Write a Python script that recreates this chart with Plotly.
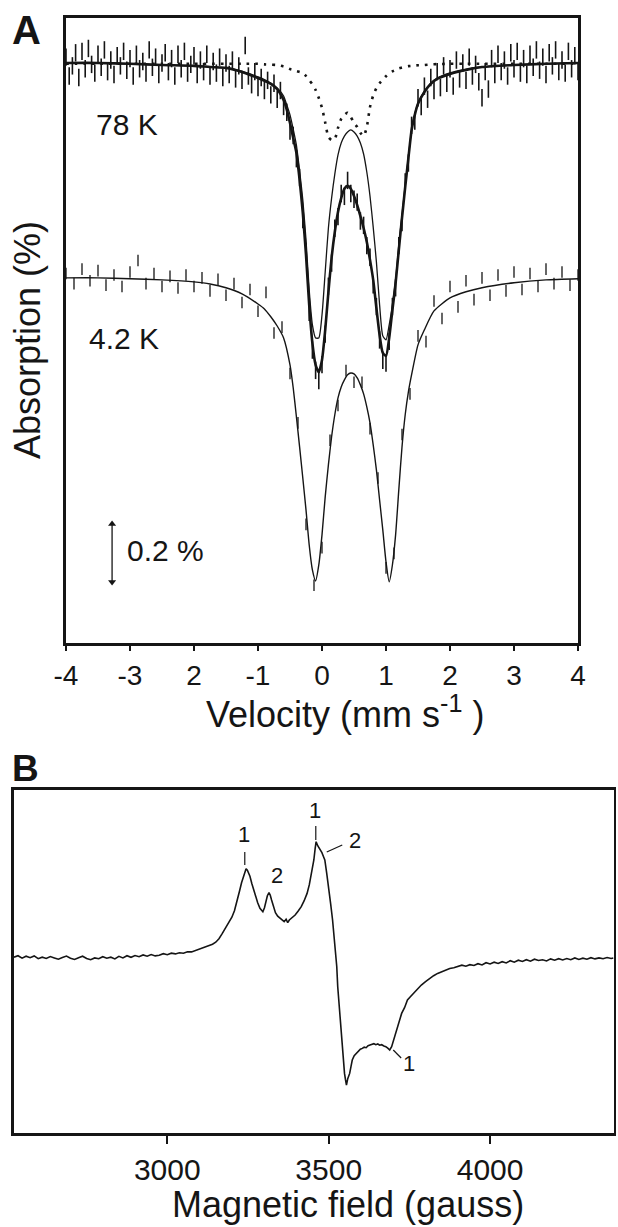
import plotly.graph_objects as go

FONT = "Liberation Sans, Arial, Helvetica, sans-serif"
INK = "#151515"

# ---------------- Panel A : Mossbauer spectra (absorption in %, 0 = baseline) -------------
V_CH78 = [
    -4.00, -3.95, -3.90, -3.85, -3.80, -3.75, -3.70, -3.65, -3.60, -3.55,
    -3.50, -3.45, -3.40, -3.35, -3.30, -3.25, -3.20, -3.15, -3.10, -3.05,
    -3.00, -2.95, -2.90, -2.85, -2.80, -2.75, -2.70, -2.65, -2.60, -2.55,
    -2.50, -2.45, -2.40, -2.35, -2.30, -2.25, -2.20, -2.15, -2.10, -2.05,
    -2.00, -1.95, -1.90, -1.85, -1.80, -1.75, -1.70, -1.65, -1.60, -1.55,
    -1.50, -1.45, -1.40, -1.35, -1.30, -1.25, -1.20, -1.15, -1.10, -1.05,
    -1.00, -0.95, -0.90, -0.85, -0.80, -0.75, -0.70, -0.65, -0.60, -0.55,
    -0.50, -0.45, -0.40, -0.35, -0.30, -0.25, -0.20, -0.15, -0.10, -0.05,
    0.00, 0.05, 0.10, 0.15, 0.20, 0.25, 0.30, 0.35, 0.40, 0.45,
    0.50, 0.55, 0.60, 0.65, 0.70, 0.75, 0.80, 0.85, 0.90, 0.95,
    1.00, 1.05, 1.10, 1.15, 1.20, 1.25, 1.30, 1.35, 1.40, 1.45,
    1.50, 1.55, 1.60, 1.65, 1.70, 1.75, 1.80, 1.85, 1.90, 1.95,
    2.00, 2.05, 2.10, 2.15, 2.20, 2.25, 2.30, 2.35, 2.40, 2.45,
    2.50, 2.55, 2.60, 2.65, 2.70, 2.75, 2.80, 2.85, 2.90, 2.95,
    3.00, 3.05, 3.10, 3.15, 3.20, 3.25, 3.30, 3.35, 3.40, 3.45,
    3.50, 3.55, 3.60, 3.65, 3.70, 3.75, 3.80, 3.85, 3.90, 3.95,
    4.00,
]
ABS_78K = [
    -0.020, 0.045, 0.010, -0.035, 0.050, -0.040, 0.020, -0.050, 0.005, 0.035,
    -0.030, 0.015, -0.045, 0.030, -0.010, 0.040, -0.025, 0.010, -0.040, 0.025,
    -0.015, 0.045, -0.030, 0.020, -0.005, 0.035, -0.045, 0.015, -0.020, 0.040,
    0.000, -0.035, 0.030, -0.015, 0.045, -0.030, 0.020, -0.040, 0.035, 0.005,
    -0.025, 0.040, -0.010, 0.030, -0.030, 0.045, -0.005, 0.035, -0.020, 0.050,
    0.000, 0.040, -0.010, 0.055, 0.010, 0.060, -0.060, 0.045, 0.075, 0.030,
    0.085, 0.050, 0.095, 0.060, 0.110, 0.070, 0.125, 0.095, 0.150, 0.170,
    0.235, 0.250, 0.330, 0.395, 0.540, 0.650, 0.860, 0.990, 1.060, 1.095,
    1.040, 0.935, 0.770, 0.690, 0.570, 0.530, 0.450, 0.460, 0.405, 0.450,
    0.470, 0.480, 0.545, 0.560, 0.630, 0.670, 0.765, 0.840, 0.955, 1.025,
    1.035, 0.960, 0.840, 0.775, 0.630, 0.550, 0.410, 0.345, 0.215, 0.200,
    0.120, 0.150, 0.080, 0.125, 0.050, 0.095, 0.030, 0.085, 0.010, 0.070,
    0.020, 0.080, -0.010, 0.055, 0.000, 0.060, -0.020, 0.045, 0.005, 0.065,
    0.120, 0.030, 0.090, -0.015, 0.040, -0.030, 0.030, -0.010, 0.045, -0.035,
    0.020, -0.040, 0.035, -0.015, 0.040, -0.030, 0.015, -0.045, 0.025, -0.020,
    0.040, -0.035, 0.010, -0.045, 0.030, -0.010, 0.035, -0.040, 0.020, -0.025,
    0.030,
]
ERR_78K = 0.030

V_CH42 = [
    -4.000, -3.875, -3.750, -3.625, -3.500, -3.375, -3.250, -3.125,
    -3.000, -2.875, -2.750, -2.625, -2.500, -2.375, -2.250, -2.125,
    -2.000, -1.875, -1.750, -1.625, -1.500, -1.375, -1.250, -1.125,
    -1.000, -0.875, -0.750, -0.625, -0.500, -0.375, -0.250, -0.125,
    0.000, 0.125, 0.250, 0.375, 0.500, 0.625, 0.750, 0.875,
    1.000, 1.125, 1.250, 1.375, 1.500, 1.625, 1.750, 1.875,
    2.000, 2.125, 2.250, 2.375, 2.500, 2.625, 2.750, 2.875,
    3.000, 3.125, 3.250, 3.375, 3.500, 3.625, 3.750, 3.875,
    4.000,
]
ABS_42K = [
    -0.015, 0.020, -0.030, 0.010, -0.025, 0.025, -0.010, 0.030,
    -0.020, -0.060, 0.020, -0.015, 0.030, -0.005, 0.035, -0.010,
    0.030, 0.000, 0.045, 0.005, 0.060, 0.020, 0.085, 0.040,
    0.115, 0.050, 0.190, 0.170, 0.330, 0.500, 0.850, 1.060,
    0.930, 0.560, 0.440, 0.320, 0.360, 0.360, 0.520, 0.690,
    1.000, 0.950, 0.540, 0.400, 0.200, 0.220, 0.080, 0.140,
    0.030, 0.100, 0.010, 0.075, 0.000, 0.060, -0.010, 0.045,
    -0.020, 0.040, -0.015, 0.030, -0.030, 0.020, -0.020, 0.025,
    -0.010,
]
ERR_42K = 0.020
OFFSET_42K = 0.741   # vertical offset of the 4.2 K trace (%)

V_FIT78 = [
    -4.0, -3.5, -3.0, -2.5, -2.0, -1.75, -1.5, -1.25, -1.0, -0.9, -0.8, -0.7, -0.6,
    -0.55, -0.5, -0.45, -0.4, -0.35, -0.3, -0.25, -0.2, -0.15, -0.1, -0.05,
    0.0, 0.05, 0.1, 0.15, 0.2, 0.25, 0.3, 0.35, 0.4, 0.45,
    0.5, 0.55, 0.6, 0.65, 0.7, 0.75, 0.8, 0.85, 0.9, 0.95,
    1.0, 1.05, 1.1, 1.15, 1.2, 1.25, 1.3, 1.35, 1.4, 1.45, 1.5,
    1.6, 1.7, 1.8, 2.0, 2.25, 2.5, 3.0, 3.5, 4.0,
]
FIT78_TOTAL = [
    0.000, 0.000, 0.003, 0.007, 0.010, 0.014, 0.017, 0.031, 0.052, 0.062, 0.072, 0.090, 0.128,
    0.162, 0.207, 0.259, 0.310, 0.403, 0.517, 0.662, 0.834, 0.966, 1.041, 1.066,
    1.024, 0.921, 0.790, 0.672, 0.583, 0.514, 0.466, 0.434, 0.424, 0.434,
    0.459, 0.490, 0.528, 0.569, 0.617, 0.679, 0.748, 0.845, 0.938, 1.000,
    1.010, 0.948, 0.852, 0.759, 0.645, 0.534, 0.428, 0.328, 0.231, 0.179, 0.141,
    0.100, 0.072, 0.055, 0.038, 0.024, 0.014, 0.007, 0.003, 0.000,
]
FIT78_MAJOR = [
    0.000, 0.000, 0.003, 0.007, 0.010, 0.013, 0.017, 0.028, 0.048, 0.057, 0.069, 0.086, 0.114,
    0.145, 0.179, 0.228, 0.283, 0.372, 0.472, 0.610, 0.783, 0.903, 0.948, 0.948,
    0.869, 0.721, 0.569, 0.466, 0.383, 0.317, 0.276, 0.252, 0.238, 0.231,
    0.238, 0.252, 0.276, 0.314, 0.376, 0.459, 0.566, 0.686, 0.834, 0.941,
    0.955, 0.903, 0.834, 0.748, 0.628, 0.524, 0.421, 0.324, 0.231, 0.176, 0.138,
    0.097, 0.069, 0.052, 0.034, 0.021, 0.014, 0.007, 0.003, 0.000,
]
FIT78_MINOR = [
    0.003, 0.003, 0.003, 0.003, 0.003, 0.003, 0.003, 0.003, 0.003, 0.005, 0.006, 0.007, 0.012,
    0.016, 0.021, 0.024, 0.028, 0.031, 0.034, 0.045, 0.059, 0.074, 0.093, 0.121,
    0.155, 0.205, 0.255, 0.266, 0.262, 0.224, 0.193, 0.179, 0.172, 0.186,
    0.207, 0.221, 0.241, 0.252, 0.221, 0.152, 0.112, 0.087, 0.070, 0.058,
    0.046, 0.036, 0.029, 0.024, 0.019, 0.016, 0.013, 0.011, 0.010, 0.009, 0.008,
    0.007, 0.005, 0.004, 0.003, 0.003, 0.003, 0.003, 0.003, 0.003,
]

V_FIT42 = [
    -4.0, -3.5, -3.0, -2.5, -2.0, -1.75, -1.5, -1.25, -1.0, -0.9, -0.8, -0.7, -0.6,
    -0.5, -0.45, -0.4, -0.35, -0.3, -0.25, -0.2, -0.15, -0.1, -0.05,
    0.0, 0.05, 0.1, 0.15, 0.2, 0.25, 0.3, 0.35, 0.4, 0.45,
    0.5, 0.55, 0.6, 0.65, 0.7, 0.75, 0.8, 0.85, 0.9, 0.95,
    1.0, 1.05, 1.1, 1.15, 1.2, 1.25, 1.3, 1.35, 1.4,
    1.5, 1.6, 1.75, 2.0, 2.25, 2.5, 3.0, 3.5, 4.0,
]
FIT42 = [
    0.000, 0.000, 0.003, 0.007, 0.014, 0.021, 0.034, 0.055, 0.090, 0.107, 0.134, 0.166, 0.207,
    0.300, 0.379, 0.479, 0.583, 0.690, 0.800, 0.921, 1.007, 1.045, 0.990,
    0.886, 0.755, 0.645, 0.548, 0.472, 0.414, 0.376, 0.352, 0.334, 0.328,
    0.331, 0.345, 0.369, 0.400, 0.445, 0.500, 0.576, 0.662, 0.766, 0.869,
    0.979, 1.048, 0.990, 0.886, 0.731, 0.583, 0.472, 0.393, 0.334,
    0.231, 0.179, 0.114, 0.069, 0.048, 0.034, 0.017, 0.007, 0.003,
]

VEL_TICKS = [-4, -3, -2, -1, 0, 1, 2, 3, 4]
VEL_TICK_TEXT = ["-4", "-3", "2", "-1", "0", "1", "2", "3", "4"]
SCALE_BAR_V = [-3.28, -3.28]        # velocity of the 0.2 % scale bar
SCALE_BAR_A = [1.59, 1.79]          # its two ends (0.2 % apart)

# ---------------- Panel B : EPR spectrum (arbitrary units) -------------
FIELD_G = [
    2525, 2537.5, 2550, 2562.5, 2575, 2587.5, 2600, 2612.5, 2625, 2637.5,
    2650, 2662.5, 2675, 2687.5, 2700, 2712.5, 2725, 2737.5, 2750, 2762.5,
    2775, 2787.5, 2800, 2812.5, 2825, 2837.5, 2850, 2862.5, 2875, 2887.5,
    2900, 2912.5, 2925, 2937.5, 2950, 2962.5, 2975, 2987.5, 3000, 3012.5,
    3025, 3037.5, 3050, 3062.5, 3075, 3087.5,
    3100, 3110, 3120, 3130, 3140, 3150, 3160, 3170, 3180, 3190,
    3200, 3208, 3216, 3224, 3230, 3236, 3240, 3244, 3248, 3252,
    3256, 3262, 3268, 3274, 3280, 3287, 3292, 3296, 3301, 3306,
    3310, 3315, 3319, 3323, 3329, 3335, 3342, 3350, 3356, 3362,
    3368, 3373, 3378, 3387, 3396, 3405, 3415, 3424, 3433, 3440,
    3445, 3450, 3454, 3458, 3461, 3466, 3472, 3479, 3484, 3488,
    3494, 3500, 3506, 3512, 3517, 3521, 3525, 3528, 3533, 3537,
    3540, 3543, 3546, 3549, 3552, 3555, 3559, 3565, 3569, 3573,
    3579, 3585, 3592, 3598, 3604, 3610, 3616, 3622, 3628, 3634,
    3640, 3646, 3652, 3658, 3664, 3671, 3677, 3683, 3689, 3695,
    3701, 3707, 3713, 3720, 3726, 3735, 3744, 3753, 3762, 3774,
    3787, 3800, 3812.5, 3825, 3837.5, 3850, 3862.5, 3875, 3887.5, 3900,
    3912.5, 3925, 3937.5, 3950, 3962.5, 3975, 3987.5, 4000, 4012.5, 4025,
    4037.5, 4050, 4062.5, 4075, 4087.5, 4100, 4112.5, 4125, 4137.5, 4150,
    4162.5, 4175, 4187.5, 4200, 4212.5, 4225, 4237.5, 4250, 4262.5, 4275,
    4287.5, 4300, 4312.5, 4325, 4337.5, 4350, 4362.5, 4375, 4382,
]
EPR_SIGNAL = [
    -0.005, 0.010, -0.015, 0.005, -0.010, 0.008, -0.020, -0.005, -0.018, 0.002,
    -0.012, -0.025, -0.008, 0.006, -0.015, -0.028, -0.010, 0.005, -0.018, -0.030,
    -0.012, -0.020, 0.000, -0.015, -0.005, -0.022, 0.004, -0.012, 0.010, -0.006,
    0.012, 0.000, 0.018, 0.005, 0.022, 0.008, 0.015, 0.030, 0.020, 0.035,
    0.028, 0.040, 0.035, 0.050, 0.048, 0.062,
    0.075, 0.088, 0.100, 0.112, 0.125, 0.145, 0.180, 0.230, 0.285, 0.340,
    0.395, 0.460, 0.550, 0.660, 0.740, 0.810, 0.850, 0.880, 0.865, 0.840,
    0.805, 0.730, 0.660, 0.600, 0.540, 0.483, 0.460, 0.450, 0.490, 0.560,
    0.610, 0.640, 0.615, 0.567, 0.500, 0.440, 0.405, 0.383, 0.360, 0.350,
    0.375, 0.340, 0.367, 0.390, 0.417, 0.455, 0.500, 0.560, 0.633, 0.720,
    0.800, 0.900, 0.967, 1.080, 1.150, 1.110, 1.083, 1.040, 1.000, 0.967,
    0.830, 0.700, 0.530, 0.367, 0.200, 0.067, -0.100, -0.300, -0.500, -0.700,
    -0.830, -0.967, -1.080, -1.167, -1.230, -1.283, -1.220, -1.167, -1.100, -1.033,
    -0.990, -0.967, -0.940, -0.925, -0.917, -0.905, -0.910, -0.890, -0.883, -0.878,
    -0.870, -0.880, -0.873, -0.885, -0.880, -0.893, -0.900, -0.915, -0.933, -0.900,
    -0.833, -0.770, -0.700, -0.640, -0.567, -0.510, -0.433, -0.400, -0.367, -0.330,
    -0.283, -0.250, -0.217, -0.190, -0.167, -0.150, -0.133, -0.118, -0.110, -0.100,
    -0.085, -0.095, -0.080, -0.088, -0.070, -0.082, -0.060, -0.072, -0.055, -0.068,
    -0.050, -0.062, -0.040, -0.055, -0.035, -0.048, -0.030, -0.045, -0.025, -0.038,
    -0.030, -0.042, -0.022, -0.035, -0.020, -0.032, -0.018, -0.030, -0.012, -0.028,
    -0.015, -0.025, -0.010, -0.022, -0.012, -0.020, -0.008, -0.018, -0.012,
]
FIELD_TICKS = [3000, 3500, 4000]

# peak labels: text, field, signal position
PEAK_LABELS = [("1", 3237, 1.227), ("2", 3341, 0.817), ("1", 3457, 1.467),
               ("2", 3583, 1.167), ("1", 3749, -1.063)]
PEAK_LEADERS = [(3240, 0.917, 3240, 1.047), (3460, 1.167, 3460, 1.307),
                (3494, 1.047, 3542, 1.117), (3700, -0.933, 3724.5, -1.013)]

for a, b in [(V_CH78, ABS_78K), (V_CH42, ABS_42K), (V_FIT78, FIT78_TOTAL),
             (V_FIT78, FIT78_MAJOR), (V_FIT78, FIT78_MINOR), (V_FIT42, FIT42),
             (FIELD_G, EPR_SIGNAL)]:
    if len(a) != len(b):
        raise ValueError(f"length mismatch {len(a)} {len(b)}")

# ---------------- figure -------------
W, H = 618, 1227
def px(x):
    return x / W
def py(y):
    return 1 - y / H

fig = go.Figure()

ebar = dict(type="constant", thickness=1.6, width=0, color=INK)

fig.add_trace(go.Scatter(x=V_CH78, y=ABS_78K, mode="markers",
                         marker=dict(size=1, color="rgba(0,0,0,0)"),
                         error_y=dict(ebar, value=ERR_78K),
                         xaxis="x", yaxis="y", showlegend=False))
fig.add_trace(go.Scatter(x=V_CH42, y=[v + OFFSET_42K for v in ABS_42K], mode="markers",
                         marker=dict(size=1, color="rgba(0,0,0,0)"),
                         error_y=dict(ebar, value=ERR_42K, thickness=1.3),
                         xaxis="x", yaxis="y", showlegend=False))
fig.add_trace(go.Scatter(x=V_FIT78, y=FIT78_MINOR, mode="lines",
                         line=dict(color=INK, width=2.6, dash="2.6px,6px", shape="spline", smoothing=0.6),
                         xaxis="x", yaxis="y", showlegend=False))
fig.add_trace(go.Scatter(x=V_FIT78, y=FIT78_MAJOR, mode="lines",
                         line=dict(color=INK, width=1.3, shape="spline", smoothing=0.6),
                         xaxis="x", yaxis="y", showlegend=False))
fig.add_trace(go.Scatter(x=V_FIT78, y=FIT78_TOTAL, mode="lines",
                         line=dict(color=INK, width=2.6, shape="spline", smoothing=0.6),
                         xaxis="x", yaxis="y", showlegend=False))
fig.add_trace(go.Scatter(x=V_FIT42, y=[v + OFFSET_42K for v in FIT42], mode="lines",
                         line=dict(color=INK, width=1.4, shape="spline", smoothing=0.6),
                         xaxis="x", yaxis="y", showlegend=False))
# 0.2 % scale bar (double arrow)
fig.add_trace(go.Scatter(x=SCALE_BAR_V, y=SCALE_BAR_A, mode="lines+markers",
                         line=dict(color=INK, width=1.3),
                         marker=dict(symbol=["triangle-up", "triangle-down"], size=7, color=INK),
                         xaxis="x", yaxis="y", showlegend=False))

fig.add_trace(go.Scatter(x=FIELD_G, y=EPR_SIGNAL, mode="lines",
                         line=dict(color=INK, width=1.6),
                         xaxis="x2", yaxis="y2", showlegend=False))

axis_common = dict(showline=True, mirror=True, linecolor=INK, linewidth=2.6,
                   showgrid=False, zeroline=False, automargin=False)

fig.update_layout(
    width=W, height=H,
    margin=dict(l=0, r=0, t=0, b=0, pad=0, autoexpand=False),
    paper_bgcolor="white", plot_bgcolor="white",
    font=dict(family=FONT, color=INK),
    hovermode=False,
    xaxis=dict(axis_common, domain=[px(66), px(578)], anchor="y",
               range=[-4, 4], tickvals=VEL_TICKS, ticktext=VEL_TICK_TEXT,
               ticks="outside", ticklen=5, tickwidth=2, tickcolor=INK,
               tickfont=dict(size=28, family=FONT, color=INK), ticklabelstandoff=1),
    yaxis=dict(axis_common, domain=[py(643), py(18)], anchor="x",
               range=[2.0, -0.155], showticklabels=False, ticks=""),
    xaxis2=dict(axis_common, domain=[px(14), px(613.7)], anchor="y2",
                range=[2525, 4383], tickvals=FIELD_TICKS,
                ticks="outside", ticklen=8, tickwidth=2, tickcolor=INK,
                tickfont=dict(size=30, family=FONT, color=INK), ticklabelstandoff=0),
    yaxis2=dict(axis_common, domain=[py(1133), py(790)], anchor="x2",
                range=[-1.763, 1.667], showticklabels=False, ticks=""),
)

ann = []
def label(text, x, y, size, xref="paper", yref="paper", **kw):
    ann.append(dict(text=text, x=x, y=y, xref=xref, yref=yref, showarrow=False,
                    xanchor="center", yanchor="middle",
                    font=dict(size=size, family=FONT, color=INK), **kw))

# panel letters
label("<b>A</b>", px(26), py(30), 40)
label("<b>B</b>", px(25), py(768), 37)
# axis titles
label("Velocity (mm s<sup>-1</sup> )", px(345), py(712), 36)
label("Absorption (%)", px(28), py(340), 36, textangle=-90)
label("Magnetic field (gauss)", px(348), py(1204), 36)
# panel A labels
label("78 K", -3.047, 0.213, 30, "x", "y")
label("4.2 K", -3.094, 0.950, 30, "x", "y")
label("0.2 %", -2.445, 1.682, 30, "x", "y")
# panel B peak labels
for t, gx, sy in PEAK_LABELS:
    label(t, gx, sy, 22, "x2", "y2")
fig.update_layout(annotations=ann)

shapes = []
for x0, y0, x1, y1 in PEAK_LEADERS:
    shapes.append(dict(type="line", x0=x0, y0=y0, x1=x1, y1=y1, xref="x2", yref="y2",
                       line=dict(color=INK, width=1.2)))
fig.update_layout(shapes=shapes)

fig.write_html("out.html", config={"displayModeBar": False, "staticPlot": True},
               post_script="document.body.style.margin='0px';")
